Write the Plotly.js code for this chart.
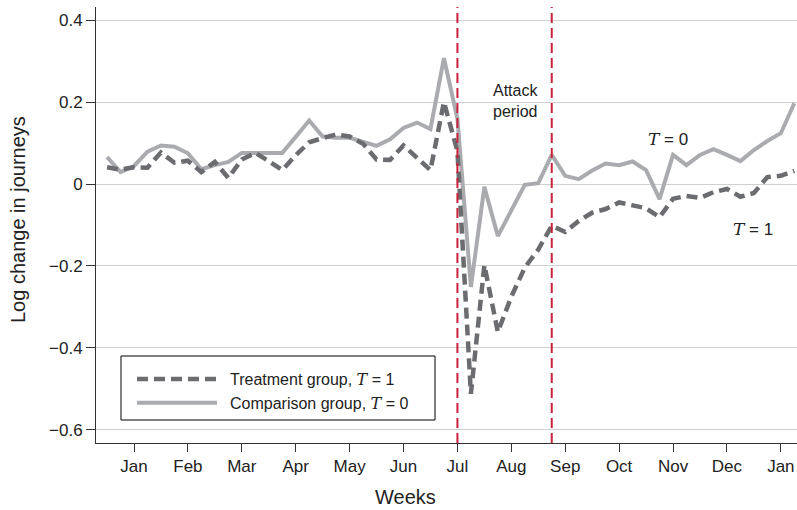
<!DOCTYPE html>
<html>
<head>
<meta charset="utf-8">
<script src="https://cdn.plot.ly/plotly-3.0.1.min.js"></script>
<style>
  html, body { margin: 0; padding: 0; background: #fff; }
  #chart { width: 797px; height: 510px; }
</style>
</head>
<body>
<div id="chart"></div>
<script>
// Week index of each observation (weekly data)
const weeks = [0,1,2,3,4,5,6,7,8,9,10,11,12,13,14,15,16,17,18,19,20,21,22,23,24,25,
               26,27,28,29,30,31,32,33,34,35,36,37,38,39,40,41,42,43,44,45,46,47,48,49,50,51];

// Comparison group, T = 0 (log change in journeys)
const comparison = [0.066,0.029,0.044,0.079,0.094,0.091,0.075,0.036,0.046,0.054,
                    0.076,0.076,0.076,0.076,0.115,0.155,0.116,0.113,0.113,0.104,
                    0.093,0.109,0.137,0.150,0.134,0.307,0.160,-0.251,-0.007,-0.127,
                    -0.065,-0.002,0.002,0.071,0.020,0.012,0.033,0.050,0.046,0.055,
                    0.034,-0.037,0.071,0.046,0.071,0.085,0.071,0.056,0.083,0.105,
                    0.124,0.197];

// Treatment group, T = 1
const treatment = [0.041,0.035,0.041,0.040,0.077,0.052,0.057,0.029,0.054,0.015,
                   0.060,0.076,0.056,0.034,0.070,0.102,0.112,0.121,0.116,0.098,
                   0.060,0.059,0.094,0.063,0.034,0.200,0.080,-0.512,-0.198,-0.361,
                   -0.275,-0.204,-0.160,-0.102,-0.117,-0.090,-0.070,-0.061,-0.045,-0.052,
                   -0.059,-0.081,-0.036,-0.029,-0.034,-0.020,-0.012,-0.031,-0.022,0.017,
                   0.020,0.032];

// Month tick labels and the week at which each month starts
const monthLabels = ['Jan','Feb','Mar','Apr','May','Jun','Jul','Aug','Sep','Oct','Nov','Dec','Jan'];
const monthWeeks  = [2,6,10,14,18,22,26,30,34,38,42,46,50];

// Y ticks
const yTickVals  = [-0.6,-0.4,-0.2,0,0.2,0.4];
const yTickText  = ['\u22120.6','\u22120.4','\u22120.2','0','0.2','0.4'];

// Attack period boundaries (weeks)
const attackWeeks = [26, 33];

const FONT = 'Liberation Sans, Arial, Helvetica, sans-serif';
const T = '<span style="font-family:\'DejaVu Serif\', \'Liberation Serif\', serif"><i>T</i></span>';
const GAP = '\u2002';

const traces = [
  {
    x: weeks, y: comparison, type: 'scatter', mode: 'lines',
    name: GAP + 'Comparison group, ' + T + ' = 0',
    line: { color: '#a9abae', width: 4 }
  },
  {
    x: weeks, y: treatment, type: 'scatter', mode: 'lines',
    name: GAP + 'Treatment group, ' + T + ' = 1',
    line: { color: '#6b6c6f', width: 4.5, dash: '11px,6px' }
  }
];

const shapes = attackWeeks.map(w => ({
  type: 'line', xref: 'x', yref: 'paper', x0: w, x1: w, y0: 0, y1: 1,
  line: { color: '#c8223c', width: 2, dash: '10px,5px' }, layer: 'above'
}));

// Legend frame
shapes.push({
  type: 'rect', xref: 'paper', yref: 'paper',
  x0: (121 - 96) / 701, x1: (435 - 96) / 701,
  y0: (443 - 420) / 436, y1: (443 - 356) / 436,
  line: { color: '#000', width: 1 }, fillcolor: '#fff', layer: 'below'
});

const layout = {
  width: 797, height: 510,
  margin: { l: 96, r: 0, t: 7, b: 67 },
  paper_bgcolor: '#fff', plot_bgcolor: 'rgba(0,0,0,0)',
  font: { family: FONT, size: 16, color: '#222' },
  showlegend: true,
  legend: {
    x: (132 - 96) / 701, y: (443 - 362) / 436, xanchor: 'left', yanchor: 'top',
    borderwidth: 0, bgcolor: 'rgba(0,0,0,0)',
    traceorder: 'reversed', itemwidth: 80,
    font: { family: FONT, size: 16, color: '#222' }
  },
  xaxis: {
    range: [-0.82, 51.2],
    tickmode: 'array', tickvals: monthWeeks, ticktext: monthLabels,
    ticks: 'outside', ticklen: 8, tickcolor: '#333', tickwidth: 1,
    showline: true, linecolor: '#333', linewidth: 1,
    showgrid: false, zeroline: false,
    tickfont: { family: FONT, size: 17, color: '#222' }
  },
  yaxis: {
    range: [-0.632, 0.432],
    tickmode: 'array', tickvals: yTickVals, ticktext: yTickText,
    ticks: 'outside', ticklen: 9, tickcolor: '#333', tickwidth: 1,
    showline: true, linecolor: '#333', linewidth: 1,
    showgrid: true, gridcolor: '#d0d0d0', gridwidth: 1,
    zeroline: false,
    tickfont: { family: FONT, size: 17, color: '#222' }
  },
  shapes: shapes,
  annotations: [
    { xref: 'x', yref: 'y', x: 30.3, y: 0.202, text: 'Attack<br>period', showarrow: false,
      font: { family: FONT, size: 16, color: '#222' }, align: 'center' },
    { xref: 'x', yref: 'y', x: 41.6, y: 0.11, text: T + ' = 0', showarrow: false,
      font: { family: FONT, size: 17, color: '#222' } },
    { xref: 'x', yref: 'y', x: 47.9, y: -0.11, text: T + ' = 1', showarrow: false,
      font: { family: FONT, size: 17, color: '#222' } },
    { xref: 'paper', yref: 'paper', x: (405 - 96) / 701, y: -(497 - 443) / 436,
      xanchor: 'center', yanchor: 'middle', text: 'Weeks', showarrow: false,
      font: { family: FONT, size: 20, color: '#222' } },
    { xref: 'paper', yref: 'paper', x: (18 - 96) / 701, y: (443 - 220) / 436,
      xanchor: 'center', yanchor: 'middle', textangle: -90,
      text: 'Log change in journeys', showarrow: false,
      font: { family: FONT, size: 20, color: '#222' } }
  ]
};

Plotly.newPlot('chart', traces, layout, { displayModeBar: false, staticPlot: true });
</script>
</body>
</html>
